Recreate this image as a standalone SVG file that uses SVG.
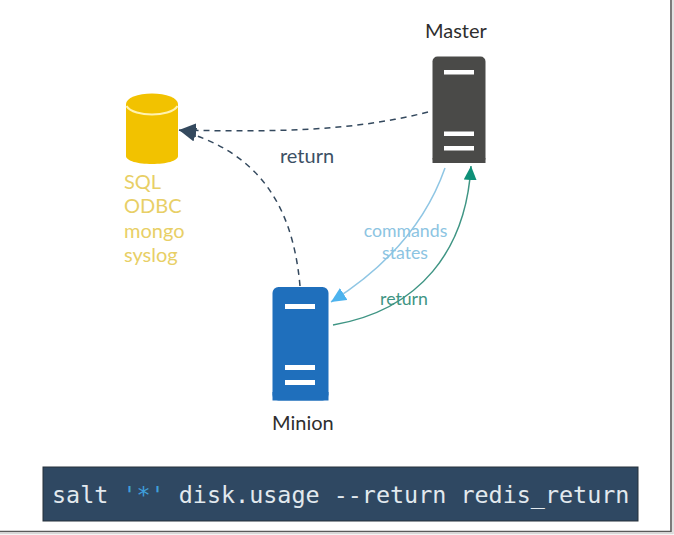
<svg xmlns="http://www.w3.org/2000/svg" width="674" height="535" viewBox="0 0 674 535">
<style>
.l{font-family:Lato,"Liberation Sans",sans-serif;font-size:20px}
.s{font-size:17.700px}
.d{fill:#2e2e2e}.n{fill:#3c5064}.y{fill:#e8cf66}.b{fill:#8cc4e2}.g{fill:#3f9584}
.bar{fill:#fff}
.c{fill:none;stroke-width:1.500}
</style>
<defs>
<marker id="an" markerUnits="userSpaceOnUse" markerWidth="18" markerHeight="14" refX="17" refY="7" orient="auto"><path d="M0 0L17 7L0 14z" fill="#34495e"/></marker>
<marker id="ab" markerUnits="userSpaceOnUse" markerWidth="16" markerHeight="14" refX="15" refY="7" orient="auto"><path d="M0 0L15 7L0 14z" fill="#4db3ee"/></marker>
<marker id="ag" markerUnits="userSpaceOnUse" markerWidth="16" markerHeight="14" refX="14" refY="6.5" orient="auto"><path d="M0 0L14 6.500L0 13z" fill="#0e9078"/></marker>
</defs>
<rect width="674" height="535" fill="#fff"/>
<path d="M671 0V531.500H0" fill="none" stroke="#5a5a5a" stroke-width="1.600"/>
<path d="M673 0V533.500H0" fill="none" stroke="#d8d8d8" stroke-width="1.500"/>
<g id="connectors">
<path class="c" d="M428 112C350 132 270 132 179 130" stroke="#34495e" stroke-dasharray="6 5" marker-end="url(#an)"/>
<path class="c" d="M300 286C292 195 250 150 179 130" stroke="#34495e" stroke-dasharray="6 5" marker-end="url(#an)"/>
<path class="c" d="M445 168C425 225 385 268 331 302" stroke="#8fc6e4" marker-end="url(#ab)"/>
<path class="c" d="M333 325C420 310 466 250 471 166" stroke="#3f9584" marker-end="url(#ag)"/>
</g>
<g id="master">
<text class="l d" x="425" y="38">Master</text>
<rect x="432.500" y="56.500" width="53" height="106.500" rx="5" fill="#4a4a48"/>
<path d="M432.500 158h53v5h-53z" fill="#4a4a48"/>
<rect class="bar" x="444" y="70" width="30" height="4.500"/>
<rect class="bar" x="444" y="131.500" width="30" height="4.500"/>
<rect class="bar" x="444" y="146" width="30" height="4.500"/>
</g>
<g id="minion">
<rect x="272.500" y="287" width="56" height="113.500" rx="6" fill="#1f6fbc"/>
<path d="M272.500 392h56v8.500h-56z" fill="#1f6fbc"/>
<rect class="bar" x="285" y="304" width="30" height="5"/>
<rect class="bar" x="285" y="365" width="30" height="5"/>
<rect class="bar" x="285" y="380" width="30" height="5"/>
<text class="l d" x="272" y="430">Minion</text>
</g>
<g id="database">
<path d="M126 104V156C126 161 138 164 152 164S178 161 178 156V104z" fill="#f2c200"/>
<ellipse cx="152" cy="104" rx="26" ry="10.500" fill="#f2c200"/>
<path d="M126.500 106C130 112 142 114.500 152 114.500S174 112 177.500 106" fill="none" stroke="#fff2b0" stroke-width="2.200"/>
<text class="l y" x="124" y="189">SQL</text>
<text class="l y" x="124" y="213">ODBC</text>
<text class="l y" x="124" y="238">mongo</text>
<text class="l y" x="124" y="262">syslog</text>
</g>
<g id="labels">
<text class="l n" x="280" y="163">return</text>
<text class="l s b" x="405.500" y="237" text-anchor="middle">commands</text>
<text class="l s b" x="405" y="259" text-anchor="middle">states</text>
<text class="l s g" x="404" y="305" text-anchor="middle">return</text>
</g>
<g id="command">
<rect x="43" y="467" width="595" height="54" fill="#2f4862" stroke="#26303a" stroke-width="1"/>
<text x="52" y="503" font-family="'DejaVu Sans Mono','Liberation Mono',monospace" font-size="23.400" fill="#e2e9ee" xml:space="preserve">salt <tspan fill="#3f9fdc">'*'</tspan> disk.usage --return redis_return</text>
</g>
</svg>
